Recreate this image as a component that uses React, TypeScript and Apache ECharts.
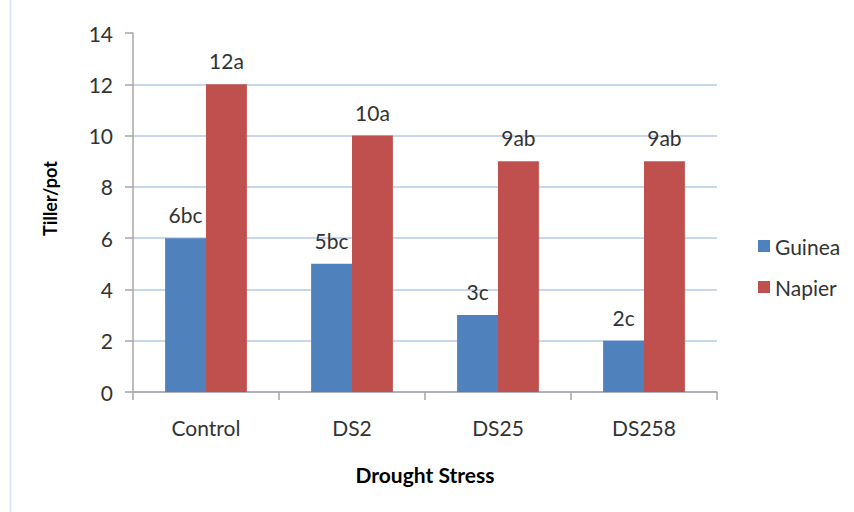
import React, { useEffect, useRef } from "react";
import * as echarts from "echarts";

const categories = ["Control", "DS2", "DS25", "DS258"];
const guineaValues = [6, 5, 3, 2];
const napierValues = [12, 10, 9, 9];
const guineaLabels = ["6bc", "5bc", "3c", "2c"];
const napierLabels = ["12a", "10a", "9ab", "9ab"];
const seriesNames = ["Guinea", "Napier"];
const yTitle = "Tiller/pot";
const xTitle = "Drought Stress";

const FONT = "Lato, 'Open Sans', sans-serif";

export default function App() {
  const ref = useRef<HTMLDivElement>(null);
  useEffect(() => {
    if (!ref.current) return;
    const chart = echarts.init(ref.current, null, { renderer: "svg" });
    const gridColor = "#c9d7ee";
    const labelStyle = {
      show: true,
      position: "top",
      distance: 13,
      fontSize: 21,
      color: "#333333",
      fontFamily: FONT,
    };
    chart.setOption({
      animation: false,
      backgroundColor: "#ffffff",
      textStyle: { fontFamily: FONT },
      grid: { left: 133, right: 137, top: 33, bottom: 120, containLabel: false },
      legend: {
        orient: "vertical",
        left: 753,
        top: 230,
        itemWidth: 12,
        itemHeight: 12,
        itemGap: 19,
        icon: "rect",
        data: seriesNames,
        textStyle: { fontSize: 21, color: "#333333", fontFamily: FONT, lineHeight: 22 },
      },
      graphic: [
        {
          type: "line",
          shape: { x1: 10.5, y1: 0, x2: 10.5, y2: 512 },
          style: { stroke: "#dfe7f5", lineWidth: 2 },
        },
      ],
      xAxis: {
        type: "category",
        data: categories,
        name: xTitle,
        nameLocation: "middle",
        nameGap: 72,
        nameTextStyle: { fontSize: 21, fontWeight: "bold", color: "#000", fontFamily: FONT },
        axisLine: { show: true, lineStyle: { color: "#a6a6a6", width: 1.5 } },
        axisTick: { show: true, length: 8, lineStyle: { color: "#a6a6a6", width: 1.5 } },
        axisLabel: { fontSize: 21, color: "#333333", margin: 25, fontFamily: FONT },
        splitLine: { show: false },
      },
      yAxis: {
        type: "value",
        min: 0,
        max: 14,
        interval: 2,
        name: yTitle,
        nameLocation: "middle",
        nameGap: 74,
        nameRotate: 90,
        nameTextStyle: { fontSize: 18, fontWeight: "bold", color: "#000", fontFamily: FONT, padding: [0, 0, 0, 28] },
        axisLine: { show: true, lineStyle: { color: "#a6a6a6", width: 1.5 } },
        axisTick: { show: true, length: 8, lineStyle: { color: "#a6a6a6", width: 1.5 } },
        axisLabel: { fontSize: 21, color: "#333333", margin: 20, fontFamily: FONT },
        splitLine: {
          show: true,
          lineStyle: {
            color: [gridColor, gridColor, gridColor, gridColor, gridColor, gridColor, gridColor, "rgba(0,0,0,0)"],
            width: 2,
          },
        },
      },
      series: [
        {
          name: seriesNames[0],
          type: "bar",
          data: guineaValues,
          barGap: "0%",
          barCategoryGap: "44%",
          itemStyle: { color: "#4f81bd" },
          label: { ...labelStyle, formatter: (p: any) => guineaLabels[p.dataIndex] },
        },
        {
          name: seriesNames[1],
          type: "bar",
          data: napierValues,
          barGap: "0%",
          barCategoryGap: "44%",
          itemStyle: { color: "#c0504d" },
          label: { ...labelStyle, formatter: (p: any) => napierLabels[p.dataIndex] },
        },
      ],
    });
    return () => chart.dispose();
  }, []);
  return (
    <div
      ref={ref}
      style={{ position: "absolute", left: 0, top: 0, width: 854, height: 512 }}
    />
  );
}
